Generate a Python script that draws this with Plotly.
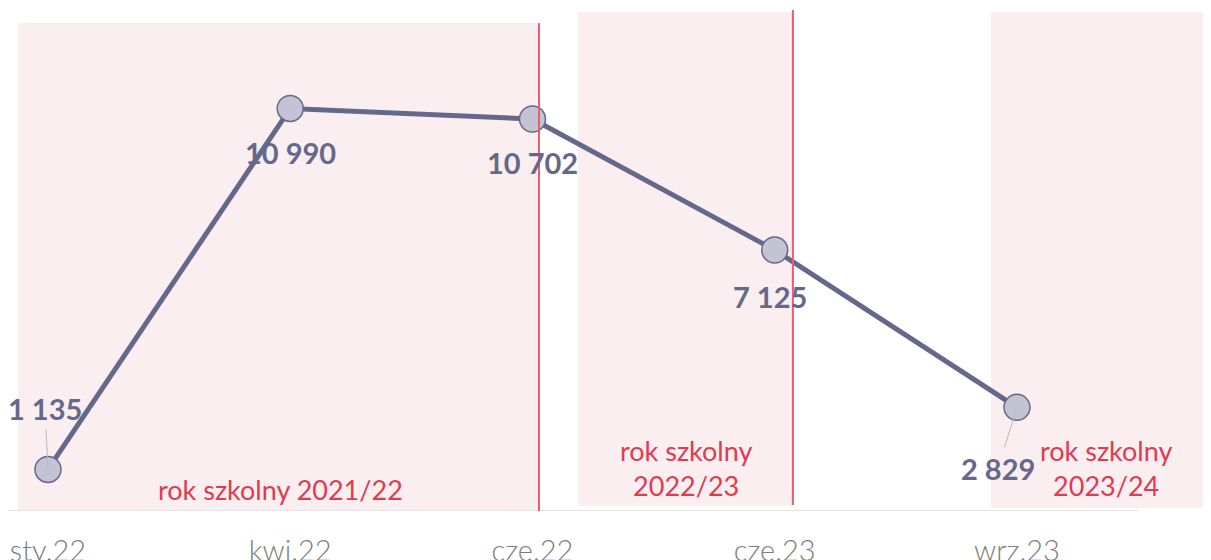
import plotly.graph_objects as go

months = ["sty.22", "kwi.22", "cze.22", "cze.23", "wrz.23"]
values = [1135, 10990, 10702, 7125, 2829]
period_labels = ["rok szkolny 2021/22", "rok szkolny<br>2022/23", "rok szkolny<br>2023/24"]

LINE = "#65688a"
RED = "#e03a50"
PINK = "#fbeef0"
FONT = "Lato, 'Open Sans', sans-serif"

xs = list(range(len(months)))

def fmt(v):
    return f"{v:,}".replace(",", " ")

fig = go.Figure()

# shaded school-year periods
rects = [(-0.124, 2.027, 0, 13322), (2.188, 3.075, 136, 13623), (3.893, 4.85, 82, 13623)]
for x0, x1, y0, y1 in rects:
    fig.add_shape(type="rect", xref="x", yref="y", x0=x0, x1=x1, y0=y0, y1=y1,
                  fillcolor=PINK, line_width=0, layer="below")

# baseline
fig.add_shape(type="line", xref="x", yref="y", x0=-0.17, x1=4.5, y0=0, y1=0,
              line=dict(color="#e4e4e4", width=2), layer="below")

fig.add_trace(go.Scatter(
    x=xs, y=values, mode="lines+markers",
    line=dict(color=LINE, width=5),
    marker=dict(size=26, color="#c3c3d4", line=dict(color=LINE, width=1.5)),
    hoverinfo="skip", showlegend=False, cliponaxis=False,
))

# red separators
fig.add_shape(type="line", xref="x", yref="y", x0=2.027, x1=2.027, y0=0, y1=13322,
              line=dict(color="#e5606f", width=2), layer="above")
fig.add_shape(type="line", xref="x", yref="y", x0=3.075, x1=3.075, y0=164, y1=13677,
              line=dict(color="#e5606f", width=2), layer="above")

LABEL_FONT = dict(family=FONT, size=29, color=LINE, weight="bold")

# data labels
offsets = [
    dict(showarrow=True, ax=-3, ay=-61),
    dict(showarrow=False, yshift=-44),
    dict(showarrow=False, yshift=-44),
    dict(showarrow=False, yshift=-46, xshift=-5),
    dict(showarrow=True, ax=-19, ay=61),
]
for x, v, off in zip(xs, values, offsets):
    a = dict(x=x, y=v, xref="x", yref="y", text="<b>" + fmt(v) + "</b>", font=LABEL_FONT)
    if off.get("showarrow"):
        a.update(showarrow=True, ax=off["ax"], ay=off["ay"], arrowhead=0,
                 arrowwidth=1, arrowcolor="#c2b6bd", standoff=0, startstandoff=2)
    else:
        a.update(showarrow=False, yshift=off.get("yshift", 0), xshift=off.get("xshift", 0))
    fig.add_annotation(**a)

# period labels
period_pos = [(0.958, 600), (2.634, 1174), (4.367, 1174)]
for (px, py), t in zip(period_pos, period_labels):
    fig.add_annotation(x=px, y=py, xref="x", yref="y", text=t, showarrow=False,
                       font=dict(family=FONT, size=27, color=RED),
                       align="center")

fig.update_xaxes(range=[-0.165, 4.801], tickvals=xs, ticktext=months,
                 showgrid=False, zeroline=False, showline=False, ticks="",
                 ticklabelstandoff=20, automargin=False,
                 tickfont=dict(family=FONT, size=29, color="#7d7d7d", weight=300))
fig.update_yaxes(range=[0, 13732], visible=False, showgrid=False, zeroline=False,
                 automargin=False)

fig.update_layout(
    width=1203, height=552,
    margin=dict(l=0, r=0, t=0, b=49, autoexpand=False),
    plot_bgcolor="white", paper_bgcolor="white",
)

fig.write_html("out.html")
